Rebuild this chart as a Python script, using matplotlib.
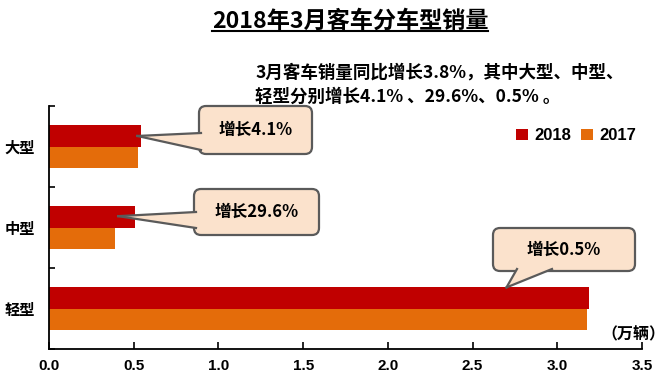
import matplotlib
matplotlib.use("Agg")
import matplotlib.pyplot as plt
from matplotlib.patches import FancyBboxPatch, Polygon
from matplotlib.lines import Line2D
from matplotlib.transforms import Affine2D

plt.rcParams['font.family'] = ['Noto Sans CJK SC', 'DejaVu Sans']
plt.rcParams['font.weight'] = 'bold'

categories = ['大型', '中型', '轻型']
sales_2018 = [0.541, 0.508, 3.19]
sales_2017 = [0.524, 0.392, 3.175]
growth_labels = ['增长4.1%', '增长29.6%', '增长0.5%']
xticks = [0.0, 0.5, 1.0, 1.5, 2.0, 2.5, 3.0, 3.5]

c2018 = '#C00000'
c2017 = '#E46C0A'
numfont = ['Liberation Sans']

W, H = 669, 388
fig = plt.figure(figsize=(W / 100, H / 100), dpi=100)
ax = fig.add_axes([49 / W, 1 - 349 / H, (642 - 49) / W, (349 - 106) / H])

pos = list(range(len(categories)))
bh = 0.26
ax.barh([p - bh / 2 for p in pos], sales_2018, height=bh, color=c2018, label='2018')
ax.barh([p + bh / 2 for p in pos], sales_2017, height=bh, color=c2017, label='2017')

ax.set_xlim(0, 3.5)
ax.set_ylim(2.5, -0.5)
ax.set_xticks(xticks)
ax.set_xticklabels(['%.1f' % t for t in xticks], family=numfont, fontsize=11, weight='bold')
ax.set_yticks([-0.5, 0.5, 1.5, 2.5])
ax.set_yticklabels([])
ax.set_yticks(pos, minor=True)
ax.set_yticklabels(categories, minor=True, fontsize=11, weight='bold')
ax.tick_params(axis='y', which='minor', length=0, pad=10)
ax.tick_params(axis='y', which='major', direction='in', length=4, width=1.2)
ax.tick_params(axis='x', direction='in', length=5, width=1.2, pad=7)
for s in ['top', 'right']:
    ax.spines[s].set_visible(False)
for s in ['left', 'bottom']:
    ax.spines[s].set_linewidth(1.3)

ax.legend(loc='upper left', bbox_to_anchor=(0.762, 0.97), ncol=2, frameon=False,
          handlelength=0.7, handleheight=0.7, handletextpad=0.4, columnspacing=0.6,
          prop={'family': numfont + ['DejaVu Sans'], 'weight': 'bold', 'size': 12})

# title with underline
title = fig.text(350 / W, 1 - 21 / H, '2018年3月客车分车型销量', ha='center', va='center',
                 fontsize=16.7, weight='bold')
fig.text(255 / W, 1 - 73 / H, '3月客车销量同比增长3.8%，其中大型、中型、',
         ha='left', va='center', fontsize=12.6, weight='bold')
fig.text(255 / W, 1 - 97 / H, '轻型分别增长4.1% 、29.6%、0.5% 。',
         ha='left', va='center', fontsize=12.6, weight='bold')
fig.text(601 / W, 1 - 334 / H, '（万辆）', ha='left', va='center', fontsize=11.5, weight='bold')

fig.canvas.draw()
bb = title.get_window_extent().transformed(fig.transFigure.inverted())
fig.add_artist(Line2D([bb.x0, bb.x1], [bb.y0 + 0.004, bb.y0 + 0.004], color='black', lw=1.5,
                      transform=fig.transFigure))

# callouts in pixel coordinates (top-left origin)
pt = Affine2D().scale(1 / W, -1 / H).translate(0, 1) + fig.transFigure


def to_px(x, y):
    dx, dy = ax.transData.transform((x, y))
    return dx, H - dy


fill = '#FBE2CC'
edge = '#5A5A5A'
boxes = [(199, 106, 312, 154), (194, 189, 319, 235), (493, 228, 635, 271)]
tips = [(sales_2018[0] - 0.02, 0 - bh / 2), (sales_2018[1] - 0.1, 1 - bh / 2 - 0.01),
        (2.70, 2 - bh)]
bases = [((201, 133), (201, 150)), ((196, 212), (196, 228)), ((517, 269), (552, 269))]

for (x0, y0, x1, y1), tip, (b1, b2), lab in zip(boxes, tips, bases, growth_labels):
    fig.add_artist(FancyBboxPatch((x0, y0), x1 - x0, y1 - y0,
                                  boxstyle='round,pad=0,rounding_size=7',
                                  fc=fill, ec=edge, lw=1.6, transform=pt, zorder=5))
    tx, ty = to_px(*tip)
    fig.add_artist(Polygon([b1, b2, (tx, ty)], closed=True, fc=fill, ec='none',
                           transform=pt, zorder=6))
    for b in (b1, b2):
        fig.add_artist(Line2D([b[0], tx], [b[1], ty], color=edge, lw=1.6,
                              transform=pt, zorder=6))
    fig.text((x0 + x1) / 2 / W, 1 - (y0 + y1) / 2 / H, lab, ha='center', va='center',
             fontsize=12, weight='bold', zorder=7)

fig.savefig('out.png', dpi=100)
